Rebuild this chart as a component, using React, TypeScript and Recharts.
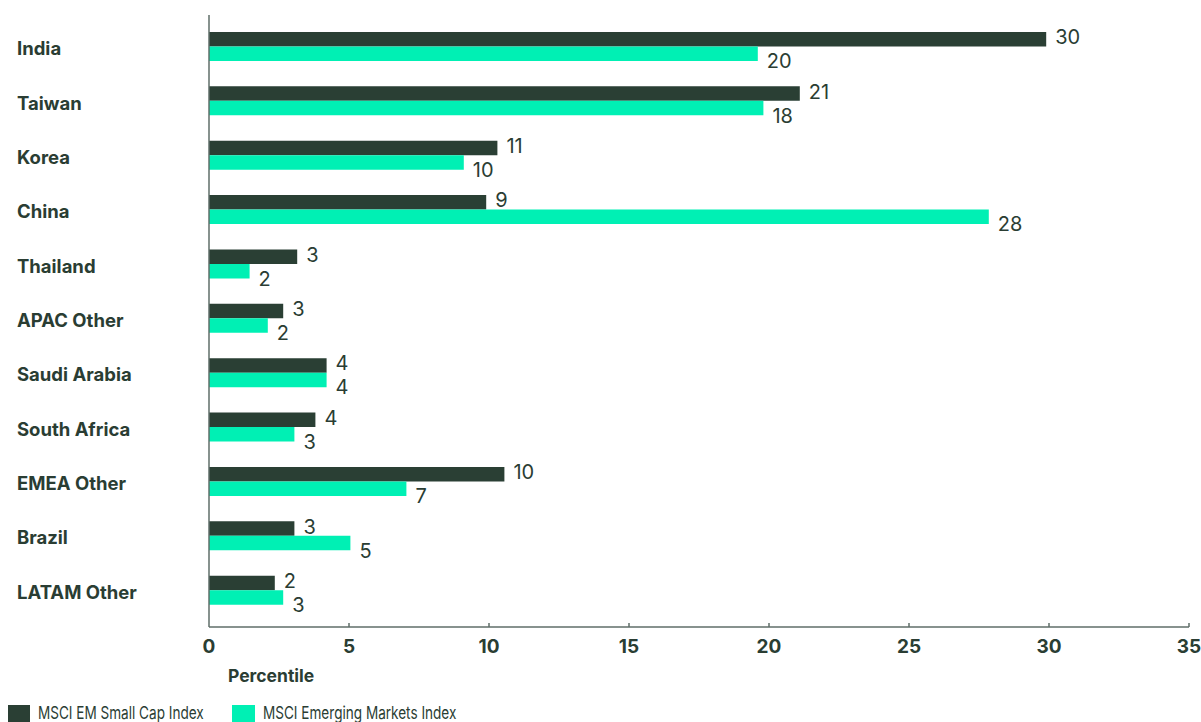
import React from "react";
import { BarChart, Bar, XAxis, YAxis, LabelList, Label } from "recharts";

const categories = [
  "India",
  "Taiwan",
  "Korea",
  "China",
  "Thailand",
  "APAC Other",
  "Saudi Arabia",
  "South Africa",
  "EMEA Other",
  "Brazil",
  "LATAM Other",
];
const smallCapValues = [29.9, 21.1, 10.3, 9.9, 3.15, 2.65, 4.2, 3.8, 10.55, 3.05, 2.35];
const emValues = [19.6, 19.8, 9.1, 27.85, 1.45, 2.1, 4.2, 3.05, 7.05, 5.05, 2.65];
const smallCapLabels = ["30", "21", "11", "9", "3", "3", "4", "4", "10", "3", "2"];
const emLabels = ["20", "18", "10", "28", "2", "2", "4", "3", "7", "5", "3"];
const xTicks = [0, 5, 10, 15, 20, 25, 30, 35];
const seriesNames = ["MSCI EM Small Cap Index", "MSCI Emerging Markets Index"];

const DARK = "#2a3f34";
const BRIGHT = "#00f0b4";
const TEXT = "#2a3d33";
const AXIS = "#5f6e68";
const FONT = "Inter, 'Noto Sans', Arial, sans-serif";

const data = categories.map((c, i) => ({
  name: c,
  small: smallCapValues[i],
  em: emValues[i],
}));

const YTick = (props: any) => {
  const { y, payload } = props;
  return (
    <text
      x={17}
      y={y + 2}
      dominantBaseline="central"
      fill={TEXT}
      fontFamily={FONT}
      fontWeight={700}
      fontSize={18.5}
    >
      {payload.value}
    </text>
  );
};

const XTick = (props: any) => {
  const { x, y, payload } = props;
  return (
    <g>
      {payload.value !== 0 && (
        <line x1={x} x2={x} y1={y - 4} y2={y} stroke={AXIS} strokeWidth={1.5} />
      )}
      <text
        x={x}
        y={y + 26}
        textAnchor="middle"
        fill={TEXT}
        fontFamily={FONT}
        fontWeight={700}
        fontSize={19}
      >
        {payload.value}
      </text>
    </g>
  );
};

const makeLabel = (labels: string[], dy: number) => (props: any) => {
  const { x, y, width, height, index } = props;
  return (
    <text
      x={x + width + 9}
      y={y + height / 2 + dy}
      dominantBaseline="central"
      fill={TEXT}
      fontFamily={FONT}
      fontSize={20}
      fontWeight={400}
    >
      {labels[index]}
    </text>
  );
};

const PercentileLabel = (props: any) => {
  const { viewBox } = props;
  return (
    <text
      x={viewBox.x + 19}
      y={viewBox.y + 55}
      fill={TEXT}
      fontFamily={FONT}
      fontWeight={700}
      fontSize={17.5}
    >
      Percentile
    </text>
  );
};

const legendText: React.CSSProperties = {
  display: "inline-block",
  whiteSpace: "nowrap",
  transform: "scaleX(0.775)",
  transformOrigin: "left center",
  fontFamily: FONT,
  fontSize: 17.5,
  lineHeight: "20px",
  color: TEXT,
};

export default function App() {
  return (
    <div
      style={{
        position: "absolute",
        left: 0,
        top: 0,
        width: 1201,
        height: 722,
        background: "#fff",
        overflow: "hidden",
      }}
    >
      <BarChart
        width={1201}
        height={722}
        data={data}
        layout="vertical"
        margin={{ top: 15, right: 12, left: 0, bottom: 35 }}
        barGap={0}
        barSize={14.5}
      >
        <XAxis
          type="number"
          domain={[0, 35]}
          ticks={xTicks}
          interval={0}
          tickSize={0}
          tickMargin={0}
          tick={<XTick />}
          axisLine={{ stroke: AXIS, strokeWidth: 1.5 }}
          height={60}
        >
          <Label content={<PercentileLabel />} />
        </XAxis>
        <YAxis
          type="category"
          dataKey="name"
          width={209}
          tick={<YTick />}
          tickLine={false}
          axisLine={{ stroke: AXIS, strokeWidth: 1.5 }}
          padding={{ top: 4, bottom: 10 }}
          interval={0}
        />
        <Bar dataKey="small" fill={DARK} isAnimationActive={false}>
          <LabelList content={makeLabel(smallCapLabels, -2)} />
        </Bar>
        <Bar dataKey="em" fill={BRIGHT} isAnimationActive={false}>
          <LabelList content={makeLabel(emLabels, 7.5)} />
        </Bar>
      </BarChart>
      <div style={{ position: "absolute", top: 705, left: 8, width: 22, height: 18, background: DARK }} />
      <div style={{ position: "absolute", top: 703, left: 38 }}>
        <span style={legendText}>{seriesNames[0]}</span>
      </div>
      <div style={{ position: "absolute", top: 705, left: 232, width: 23, height: 18, background: BRIGHT }} />
      <div style={{ position: "absolute", top: 703, left: 263 }}>
        <span style={legendText}>{seriesNames[1]}</span>
      </div>
    </div>
  );
}
